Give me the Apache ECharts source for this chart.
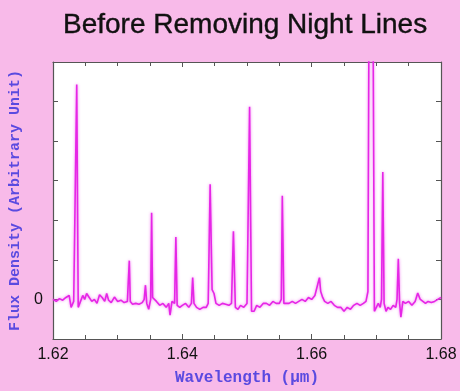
<!DOCTYPE html>
<html>
<head>
<meta charset="utf-8">
<script src="https://cdn.jsdelivr.net/npm/echarts@6/dist/echarts.min.js"></script>
<style>
  html, body { margin: 0; padding: 0; background: #f8bae9; }
  #main { width: 460px; height: 391px; }
</style>
</head>
<body>
<div id="main"></div>
<script>
// 坐标轴刻度
var xTicks = [1.62, 1.64, 1.66, 1.68];
var yTicks = [-1, 0, 1, 2, 3, 4, 5, 6];
var yLabelShown = [0];

// 光谱数据：波长(um) 和 通量(任意单位)，从图上读出来的
var wave = [
  1.6200, 1.6205, 1.6210, 1.6215, 1.6220, 1.6225, 1.6228, 1.6232, 1.62345, 1.62367,
  1.6239, 1.6242, 1.6246, 1.6249, 1.6252, 1.6256, 1.6260, 1.6264, 1.6268, 1.6272,
  1.6276, 1.6280, 1.6283, 1.6286, 1.6290, 1.6295, 1.6300, 1.6305, 1.6310, 1.6315,
  1.63165, 1.6318, 1.63195, 1.6323, 1.6328, 1.6333, 1.6338, 1.6341, 1.6343, 1.6345,
  1.6348, 1.6351, 1.63525, 1.6354, 1.6357, 1.6360, 1.6365, 1.6370, 1.6375, 1.6379,
  1.6381, 1.6384, 1.6388, 1.6390, 1.6392, 1.6396, 1.6400, 1.6405, 1.6410, 1.6414,
  1.6416, 1.6418, 1.6422, 1.6427, 1.6432, 1.6437, 1.6440, 1.6443, 1.6446, 1.6449,
  1.6452, 1.6457, 1.6462, 1.6467, 1.6472, 1.6476, 1.6479, 1.6482, 1.6486, 1.6490,
  1.6495, 1.6500, 1.6504, 1.6507, 1.6511, 1.6515, 1.6520, 1.6525, 1.6530, 1.6535,
  1.6540, 1.6545, 1.6550, 1.6553, 1.65546, 1.6557, 1.6560, 1.6565, 1.6570, 1.6575,
  1.6580, 1.6585, 1.6590, 1.6595, 1.6600, 1.6605, 1.6608, 1.6612, 1.6614, 1.6617,
  1.6620, 1.6625, 1.6630, 1.6635, 1.6640, 1.6645, 1.6650, 1.6655, 1.6660, 1.6665,
  1.6670, 1.6675, 1.6680, 1.6684, 1.6687, 1.66887, 1.66915, 1.66948, 1.6697, 1.6700,
  1.6703, 1.6706, 1.6708, 1.6710, 1.6712, 1.6715, 1.6718, 1.6722, 1.6726, 1.6730,
  1.6732, 1.6734, 1.6736, 1.6738, 1.6741, 1.6745, 1.6750, 1.6755, 1.6760, 1.6764,
  1.6768, 1.6772, 1.6776, 1.6780, 1.6785, 1.6790, 1.6795, 1.6800
];
var flux = [
  0.00, -0.05, 0.02, -0.02, 0.05, 0.10, -0.20, -0.05, 0.00, 5.43,
  -0.20, -0.15, 0.10, 0.00, 0.15, 0.05, -0.05, 0.00, -0.10, 0.12,
  0.05, -0.05, 0.15, -0.02, -0.08, 0.06, -0.05, -0.02, -0.08, -0.05,
  0.00, 0.98, -0.05, -0.12, -0.10, -0.12, -0.08, 0.00, 0.36, -0.10,
  -0.25, 0.00, 2.19, 0.05, 0.10, -0.05, -0.15, -0.10, -0.20, -0.10,
  -0.40, -0.05, -0.10, 1.58, -0.15, -0.20, -0.15, -0.10, -0.20, -0.10,
  0.55, -0.10, -0.20, -0.25, -0.20, -0.20, -0.10, 2.91, 0.25, 0.15,
  -0.10, -0.15, -0.10, -0.12, -0.15, -0.10, 1.72, -0.20, -0.25, -0.15,
  -0.20, -0.10, 4.87, -0.30, -0.30, -0.15, -0.20, -0.10, -0.10, -0.15,
  -0.05, -0.10, -0.10, 0.00, 2.62, -0.10, -0.15, -0.10, -0.05, -0.10,
  -0.05, 0.00, -0.05, 0.05, 0.00, 0.10, 0.15, 0.55, 0.20, 0.05,
  -0.05, -0.10, -0.05, -0.15, -0.20, -0.20, -0.30, -0.20, -0.25, -0.15,
  -0.10, -0.15, -0.10, -0.05, 0.20, 7.50, 6.50, 7.50, -0.30, -0.35,
  -0.10, -0.20, 0.00, 3.22, -0.10, -0.30, -0.20, -0.25, -0.15, -0.20,
  0.00, 1.03, -0.10, -0.45, -0.05, -0.10, -0.05, -0.15, -0.05, 0.16,
  0.00, -0.05, -0.10, -0.05, -0.08, -0.05, 0.00, 0.05
];

var spec = wave.map(function (w, i) { return [w, flux[i]]; });

var myChart = echarts.init(document.getElementById('main'), null, { renderer: 'canvas' });

var frameLine = { show: true, onZero: false, lineStyle: { color: '#555', width: 1.2 } };
var tickStyle = { color: '#555', width: 1 };

var option = {
  backgroundColor: '#f8bae9',
  animation: false,
  title: {
    text: 'Before Removing Night Lines',
    left: 58,
    top: 6,
    textStyle: {
      fontFamily: 'Liberation Sans',
      fontSize: 28,
      fontWeight: 'normal',
      color: '#111',
      textBorderColor: '#111',
      textBorderWidth: 0.4
    }
  },
  grid: { left: 53, right: 19, top: 62, bottom: 49, show: true, backgroundColor: '#fff', borderWidth: 0 },
  xAxis: [
    {
      type: 'value',
      min: xTicks[0],
      max: xTicks[xTicks.length - 1],
      interval: 0.02,
      axisLine: frameLine,
      axisTick: { show: true, inside: true, length: 5, lineStyle: tickStyle },
      minorTick: { show: true, splitNumber: 4, length: 4, lineStyle: tickStyle },
      splitLine: { show: false },
      axisLabel: {
        margin: 8,
        fontFamily: 'Liberation Sans',
        fontSize: 16,
        color: '#111',
        formatter: function (v) { return v.toFixed(2); }
      },
      name: 'Wavelength (μm)',
      nameLocation: 'middle',
      nameGap: 31,
      nameTextStyle: { fontFamily: 'Liberation Mono', fontSize: 16, color: '#5a4ae0', fontWeight: 'bold' }
    },
    {
      type: 'value',
      position: 'top',
      min: xTicks[0],
      max: xTicks[xTicks.length - 1],
      interval: 0.02,
      axisLine: frameLine,
      axisTick: { show: true, inside: true, length: 5, lineStyle: tickStyle },
      minorTick: { show: true, splitNumber: 4, length: 4, lineStyle: tickStyle },
      splitLine: { show: false },
      axisLabel: { show: false }
    }
  ],
  yAxis: [
    {
      type: 'value',
      min: yTicks[0],
      max: yTicks[yTicks.length - 1],
      interval: 1,
      axisLine: frameLine,
      axisTick: { show: true, inside: true, length: 5, lineStyle: tickStyle },
      splitLine: { show: false },
      axisLabel: {
        margin: 10,
        fontFamily: 'Liberation Sans',
        fontSize: 16,
        color: '#111',
        formatter: function (v) { return yLabelShown.indexOf(v) >= 0 ? String(v) : ''; }
      },
      name: 'Flux Density (Arbitrary Unit)',
      nameLocation: 'middle',
      nameRotate: 90,
      nameGap: 28,
      nameTextStyle: { fontFamily: 'Liberation Mono', fontSize: 15, color: '#5a4ae0', fontWeight: 'bold' }
    },
    {
      type: 'value',
      position: 'right',
      min: yTicks[0],
      max: yTicks[yTicks.length - 1],
      interval: 1,
      axisLine: frameLine,
      axisTick: { show: true, inside: true, length: 5, lineStyle: tickStyle },
      splitLine: { show: false },
      axisLabel: { show: false }
    }
  ],
  series: [
    {
      type: 'line',
      data: spec,
      xAxisIndex: 0,
      yAxisIndex: 0,
      showSymbol: false,
      symbol: 'none',
      clip: true,
      lineStyle: {
        color: '#e626e6',
        width: 1.6,
        shadowColor: 'rgba(240,110,240,0.9)',
        shadowBlur: 3
      }
    }
  ]
};

myChart.setOption(option);
</script>
</body>
</html>
